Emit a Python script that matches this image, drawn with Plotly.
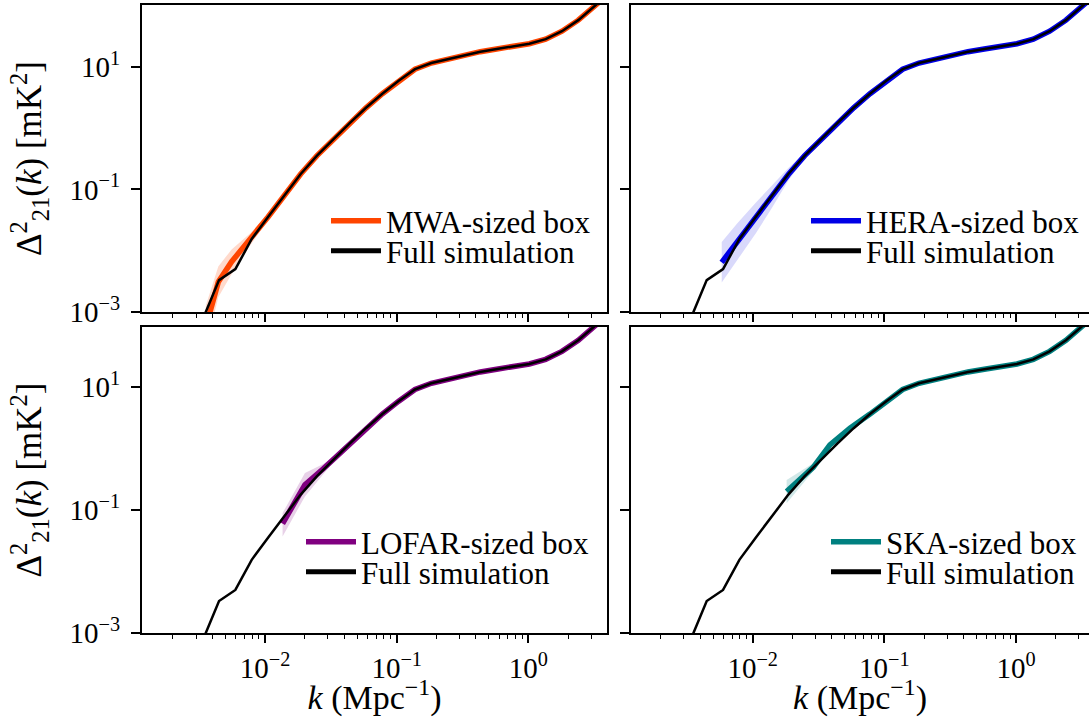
import plotly.graph_objects as go

# ---------------- data ----------------
# Full simulation power spectrum (same curve in every panel)
full_k = [0.003365, 0.004477, 0.005957, 0.007925, 0.010544, 0.014028, 0.018664,
          0.024831, 0.033037, 0.043954, 0.058479, 0.077804, 0.10351, 0.13772,
          0.18323, 0.24378, 0.32434, 0.43152, 0.57412, 0.76384, 1.0162, 1.3521,
          1.7989, 2.3933, 3.1842, 4.2364]
full_d = [0.000759, 0.00331, 0.00501, 0.0155, 0.0355, 0.0794, 0.178,
          0.355, 0.661, 1.20, 2.14, 3.63, 5.89, 9.12,
          11.5, 13.3, 15.5, 17.6, 19.5, 21.4, 23.7, 28.2,
          38.0, 57.5, 97.7, 166.0]

# MWA-sized box (low-k part; joins the full curve from index 4)
mwa_k_low = [0.00355, 0.00442, 0.00558, 0.00769]
mwa_d_low = [0.000562, 0.00309, 0.00661, 0.0151]
mwa_band_k = [0.00355, 0.00442, 0.00558, 0.00769, 0.010544, 0.014028]
mwa_band_lo = [0.000251, 0.00174, 0.00417, 0.0120, 0.0316, 0.0741]
mwa_band_hi = [0.00126, 0.00550, 0.0105, 0.0191, 0.0398, 0.0851]

# HERA-sized box (joins the full curve from index 7)
hera_k_low = [0.00582, 0.00759, 0.010544, 0.014028, 0.018664]
hera_d_low = [0.00646, 0.0138, 0.0339, 0.0759, 0.175]
hera_band_k = [0.00582, 0.00759, 0.010544, 0.014028, 0.018664, 0.024831]
hera_band_lo = [0.00302, 0.00692, 0.0191, 0.0501, 0.140, 0.316]
hera_band_hi = [0.0138, 0.0275, 0.0603, 0.115, 0.224, 0.398]

# LOFAR-sized box (joins the full curve from index 8)
lofar_k_low = [0.0136, 0.0201, 0.0277]
lofar_d_low = [0.0603, 0.257, 0.468]
lofar_band_k = [0.0136, 0.0201, 0.0277, 0.033037]
lofar_band_lo = [0.0372, 0.166, 0.380, 0.603]
lofar_band_hi = [0.0891, 0.398, 0.562, 0.724]

# SKA-sized box (joins the full curve from index 11)
ska_k_low = [0.0181, 0.0288, 0.0386, 0.0548]
ska_d_low = [0.200, 0.495, 1.148, 2.138]
ska_band_k = [0.0181, 0.0288, 0.0386, 0.0548]
ska_band_lo = [0.129, 0.427, 1.047, 2.042]
ska_band_hi = [0.309, 0.575, 1.259, 2.239]

panels = [
    # name, colour, band rgba, low-k part, join index, band
    ("MWA-sized box", "#FF4500", "rgba(255,69,0,0.2)", mwa_k_low, mwa_d_low, 4,
     mwa_band_k, mwa_band_lo, mwa_band_hi),
    ("HERA-sized box", "#0000E6", "rgba(0,0,230,0.15)", hera_k_low, hera_d_low, 7,
     hera_band_k, hera_band_lo, hera_band_hi),
    ("LOFAR-sized box", "#800080", "rgba(128,0,128,0.18)", lofar_k_low, lofar_d_low, 8,
     lofar_band_k, lofar_band_lo, lofar_band_hi),
    ("SKA-sized box", "#008080", "rgba(0,128,128,0.18)", ska_k_low, ska_d_low, 11,
     ska_band_k, ska_band_lo, ska_band_hi),
]

# ---------------- layout geometry ----------------
W, H = 1089, 717
ML, MT, MB = 142, 5, 84
PW, PH = W - ML, H - MT - MB


def px_x(p):
    return (p - ML) / PW


def px_y(p):
    return (H - MB - p) / PH


x_dom = [[0.0, px_x(607)], [px_x(631), 1.0]]
y_dom = [[px_y(312), 1.0], [0.0, px_y(327)]]
x_rng = [[-2.934, 0.597], [-2.924, 0.554]]
y_rng = [[-3.0, 2.007], [-3.0, 1.976]]

# legend anchor positions (pixel coords of legend left, row centres)
leg_pos = [
    (326, 221, 251),
    (806, 221, 251),
    (301, 542, 572),
    (826, 542, 572),
]

FONT = "Liberation Serif"
fig = go.Figure()

for i, (name, col, bandcol, k_low, d_low, j, bk, blo, bhi) in enumerate(panels):
    xa = "x" if i == 0 else f"x{i+1}"
    ya = "y" if i == 0 else f"y{i+1}"
    la = 2 * i + 1
    lg1 = "legend" if la == 1 else f"legend{la}"
    lg2 = f"legend{la+1}"
    # band
    fig.add_trace(go.Scatter(x=bk, y=blo, mode="lines", line=dict(width=0, color=bandcol),
                             showlegend=False, hoverinfo="skip", xaxis=xa, yaxis=ya))
    fig.add_trace(go.Scatter(x=bk, y=bhi, mode="lines", line=dict(width=0, color=bandcol),
                             fill="tonexty", fillcolor=bandcol, showlegend=False,
                             hoverinfo="skip", xaxis=xa, yaxis=ya))
    # coloured curve
    fig.add_trace(go.Scatter(x=k_low + full_k[j:], y=d_low + full_d[j:], mode="lines",
                             line=dict(color=col, width=5.5), name=name,
                             legend=lg1, xaxis=xa, yaxis=ya))
    # full simulation
    fig.add_trace(go.Scatter(x=full_k, y=full_d, mode="lines",
                             line=dict(color="black", width=2.5), showlegend=False,
                             xaxis=xa, yaxis=ya))
    # legend handle for full simulation (thicker, like the reference)
    fig.add_trace(go.Scatter(x=[None], y=[None], mode="lines",
                             line=dict(color="black", width=5), name="Full simulation",
                             legend=lg2, xaxis=xa, yaxis=ya))

minor_vals = [v * m for v in (0.001, 0.01, 0.1, 1.0) for m in range(2, 10)]

layout = dict(
    width=W, height=H,
    margin=dict(l=ML, r=0, t=MT, b=MB),
    paper_bgcolor="white", plot_bgcolor="white",
    font=dict(family=FONT, size=29, color="black"),
    showlegend=True,
)

for i in range(4):
    col = i % 2
    row = i // 2
    xk = "xaxis" if i == 0 else f"xaxis{i+1}"
    yk = "yaxis" if i == 0 else f"yaxis{i+1}"
    layout[xk] = dict(
        type="log", domain=x_dom[col], range=x_rng[col],
        anchor="y" if i == 0 else f"y{i+1}",
        showgrid=False, zeroline=False,
        showline=True, linecolor="black", linewidth=2, mirror=True,
        ticks="outside", ticklen=8, tickwidth=1.8, tickcolor="black",
        tickvals=[0.01, 0.1, 1.0],
        ticktext=["10<sup>−2</sup>", "10<sup>−1</sup>", "10<sup>0</sup>"],
        showticklabels=(row == 1),
        tickfont=dict(size=29),
        minor=dict(ticks="outside", ticklen=4, tickwidth=1.4, tickcolor="black",
                   tickvals=minor_vals, showgrid=False),
        title=dict(text="<i>k</i> (Mpc<sup>−1</sup>)" if row == 1 else "",
                   font=dict(size=34), standoff=0),
    )
    layout[yk] = dict(
        type="log", domain=y_dom[row], range=y_rng[row],
        anchor="x" if i == 0 else f"x{i+1}",
        showgrid=False, zeroline=False,
        showline=True, linecolor="black", linewidth=2, mirror=(col == 0),
        ticks="outside", ticklen=9, tickwidth=1.8, tickcolor="black",
        tickvals=[1e-3, 1e-1, 1e1],
        ticktext=["10<sup>−3</sup>", "10<sup>−1</sup>", "10<sup>1</sup>"],
        showticklabels=(col == 0),
        ticklabelstandoff=5,
        tickfont=dict(size=29),
        title=dict(text="Δ<sup>2</sup><sub>21</sub>(<i>k</i>) [mK<sup>2</sup>]" if col == 0 else "",
                   font=dict(size=35), standoff=17),
    )

for i, (lx, ly1, ly2) in enumerate(leg_pos):
    la = 2 * i + 1
    k1 = "legend" if la == 1 else f"legend{la}"
    k2 = f"legend{la+1}"
    for key, ly in ((k1, ly1), (k2, ly2)):
        layout[key] = dict(
            x=px_x(lx), y=px_y(ly), xanchor="left", yanchor="middle",
            bgcolor="rgba(0,0,0,0)", borderwidth=0, itemwidth=50,
            font=dict(family=FONT, size=31, color="black"),
            tracegroupgap=0, itemclick=False,
        )

fig.update_layout(**layout)
fig.write_html("out.html", config={"displayModeBar": False},
               post_script="document.body.style.margin='0px';")
